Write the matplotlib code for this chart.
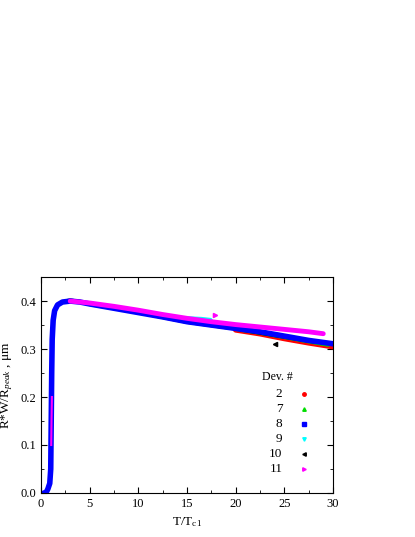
import matplotlib
matplotlib.use('Agg')
import matplotlib.pyplot as plt
from matplotlib.ticker import MultipleLocator

plt.rcParams['font.family'] = ['Liberation Serif', 'DejaVu Serif']
plt.rcParams['mathtext.fontset'] = 'custom'
plt.rcParams['mathtext.rm'] = 'Liberation Serif'
plt.rcParams['mathtext.it'] = 'Liberation Serif:italic'

# common rising edge + peak
rise_x = [0.3, 0.5, 0.7, 0.9, 1.0, 1.05, 1.1, 1.15, 1.25, 1.4, 1.7, 2.2, 3.0, 4.0, 5.0]
rise_y = [0.0, 0.0, 0.008, 0.02, 0.05, 0.15, 0.25, 0.32, 0.36, 0.38, 0.392, 0.398, 0.400, 0.398, 0.394]

# Dev 8 (blue)
dev8_x = rise_x + [7.5, 10, 12.5, 15, 17.5, 20, 22.5, 25, 27.5, 30]
dev8_y = rise_y + [0.385, 0.376, 0.367, 0.357, 0.350, 0.343, 0.336, 0.327, 0.318, 0.311]

# Dev 2 (red)
dev2_x = [20, 22.5, 25, 27.5, 30]
dev2_y = [0.340, 0.332, 0.322, 0.313, 0.305]

# Dev 7 (green)
dev7_x = [20, 22.5, 25, 27.5, 29.5]
dev7_y = [0.342, 0.334, 0.325, 0.316, 0.309]

# Dev 9 (cyan)
dev9_x = [5, 8, 11, 14, 15.5, 16.5, 17.4]
dev9_y = [0.394, 0.384, 0.375, 0.364, 0.363, 0.362, 0.360]

# Dev 10 (black)
dev10_x = [2.5, 3.0, 4.0, 10, 15, 20, 25, 28]
dev10_y = [0.400, 0.402, 0.399, 0.376, 0.356, 0.342, 0.325, 0.315]
dev10_out_x = [24.0]
dev10_out_y = [0.310]

# Dev 11 (magenta)
dev11_x = [1.05, 1.08, 1.12, 3.0, 5.0, 7.5, 10, 12.5, 15, 17.5, 20, 22.5, 25, 27.5, 29.0]
dev11_y = [0.10, 0.15, 0.20, 0.400, 0.396, 0.389, 0.381, 0.372, 0.364, 0.357, 0.351, 0.346, 0.341, 0.336, 0.332]
dev11_out_x = [17.9]
dev11_out_y = [0.371]

legend_labels = ['2', '7', '8', '9', '10', '11']
legend_colors = ['red', '#00dd00', 'blue', 'cyan', 'black', 'magenta']
legend_markers = ['o', '^', 's', 'v', '<', '>']

fig = plt.figure(figsize=(4.15, 5.37), dpi=100)
ax = fig.add_axes([0.0988, 0.082, 0.7036, 0.402])

lw = 4
ax.plot(dev2_x, dev2_y, '-', color='red', lw=lw, solid_capstyle='round')
ax.plot(dev7_x, dev7_y, '-', color='#00dd00', lw=lw - 1, solid_capstyle='round')
ax.plot(dev9_x, dev9_y, '-', color='cyan', lw=lw - 0.5, solid_capstyle='round')
ax.plot(dev10_x, dev10_y, '-', color='black', lw=lw - 1.5, solid_capstyle='round')
ax.plot(dev8_x, dev8_y, '-', color='blue', lw=lw, solid_capstyle='round')
ax.plot(dev11_x[3:], dev11_y[3:], '-', color='magenta', lw=lw - 0.5, solid_capstyle='round')
ax.plot(dev11_x[:3], dev11_y[:3], '-', color='magenta', lw=1.5)
ax.plot(dev10_out_x, dev10_out_y, '<', color='black', ms=3)
ax.plot(dev11_out_x, dev11_out_y, '>', color='magenta', ms=3)

ax.set_xlim(0, 30)
ax.set_ylim(0, 0.45)
ax.xaxis.set_major_locator(MultipleLocator(5))
ax.xaxis.set_minor_locator(MultipleLocator(2.5))
ax.yaxis.set_major_locator(MultipleLocator(0.1))
ax.yaxis.set_minor_locator(MultipleLocator(0.05))
ax.yaxis.set_major_formatter(plt.FuncFormatter(lambda v, p: f'{v:.1f}'))
ax.tick_params(which='both', direction='in', top=True, right=True, labelsize=9)
ax.tick_params(which='major', length=4)
ax.tick_params(which='minor', length=2)

ax.set_xlabel(r'T/T$_{\rm c1}$', fontsize=9.5)
ax.set_ylabel(r'R*W/R$_{\it peak}$ , $\rm \mu$m', fontsize=9.5)

ax.text(22.7, 0.241, 'Dev. #', fontsize=8.5, ha='left', va='center')
row_y = [0.206, 0.175, 0.144, 0.113, 0.082, 0.051]
for lab, c, m, yy in zip(legend_labels, legend_colors, legend_markers, row_y):
    ax.text(24.8, yy, lab, fontsize=9.5, ha='right', va='center')
    ax.plot([27.0], [yy], m, color=c, ms=2.5)

fig.savefig('out.png', dpi=100)
